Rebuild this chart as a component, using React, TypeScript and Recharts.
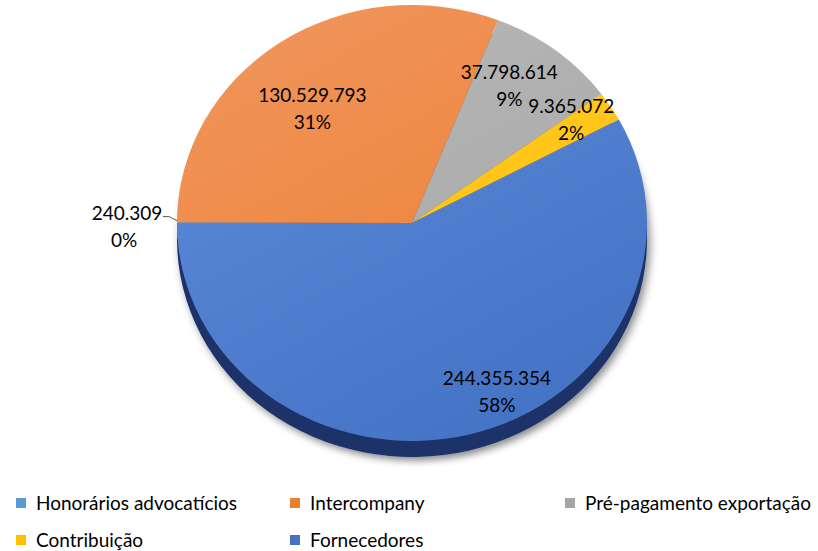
import React from "react";
import { PieChart, Pie, Cell, Sector, Legend } from "recharts";

const categories = [
  "Honorários advocatícios",
  "Intercompany",
  "Pré-pagamento exportação",
  "Contribuição",
  "Fornecedores",
];
const values = [240309, 130529793, 37798614, 9365072, 244355354];

const colors = ["#5B9BD5", "#ED7D31", "#A5A5A5", "#FFC000", "#4472C4"];
const lightColors = ["#79b0e0", "#f0955a", "#b8b8b8", "#ffcc33", "#5e8bdb"];
const darkColors = ["#2f5f8c", "#94481a", "#686868", "#9c7600", "#1b3268"];

// label placement: fraction of radius, angle shift in degrees
const labelPlace = [
  { r: 1, da: 0 },
  { r: 0.68, da: 4.4 },
  { r: 0.76, da: 4.6 },
  { r: 0.83, da: 3 },
  { r: 0.85, da: 11 },
];

const data = categories.map((name, i) => ({ name, value: values[i] }));

const CX = 412;
const CY = 223;
const R = 235;
const SY = 218 / 235;
const DEPTH = 16;
const FONT = "Lato, 'Open Sans', sans-serif";
const LABEL_SIZE = 19;

const fmt = (v: number) => String(v).replace(/\B(?=(\d{3})+(?!\d))/g, ".");

function EllipseSector(props: any) {
  const { cx, cy, innerRadius, outerRadius, startAngle, endAngle, fill, filter } = props;
  return (
    <g transform={`translate(0 ${cy}) scale(1 ${SY}) translate(0 ${-cy})`} filter={filter}>
      <Sector
        cx={cx}
        cy={cy}
        innerRadius={innerRadius}
        outerRadius={outerRadius}
        startAngle={startAngle}
        endAngle={endAngle}
        fill={fill}
        stroke="none"
      />
    </g>
  );
}

function renderLabel(props: any) {
  const { cx, cy, midAngle, outerRadius, index, value, percent } = props;
  const pct = Math.round(percent * 100) + "%";
  const RAD = Math.PI / 180;
  if (index === 0) {
    const ex = cx + outerRadius * Math.cos(-midAngle * RAD);
    const ey = cy + outerRadius * SY * Math.sin(-midAngle * RAD);
    return (
      <g>
        <polyline
          points={`${ex - 14},${ey - 6} ${ex - 8},${ey - 6} ${ex},${ey - 2}`}
          fill="none"
          stroke="#595959"
          strokeWidth={1}
        />
        <text
          x={ex - 50}
          y={ey - 10}
          textAnchor="middle"
          dominantBaseline="central"
          fontFamily={FONT}
          fontSize={LABEL_SIZE}
          fill="#000"
        >
          {fmt(value)}
        </text>
        <text
          x={ex - 53}
          y={ey + 17}
          textAnchor="middle"
          dominantBaseline="central"
          fontFamily={FONT}
          fontSize={LABEL_SIZE}
          fill="#000"
        >
          {pct}
        </text>
      </g>
    );
  }
  const p = labelPlace[index];
  const a = (midAngle + p.da) * RAD;
  const x = cx + p.r * outerRadius * Math.cos(a);
  const y = cy - p.r * outerRadius * SY * Math.sin(a);
  return (
    <g>
      <text
        x={x}
        y={y - 13}
        textAnchor="middle"
        dominantBaseline="central"
        fontFamily={FONT}
        fontSize={LABEL_SIZE}
        fill="#000"
      >
        {fmt(value)}
      </text>
      <text
        x={x}
        y={y + 14}
        textAnchor="middle"
        dominantBaseline="central"
        fontFamily={FONT}
        fontSize={LABEL_SIZE}
        fill="#000"
      >
        {pct}
      </text>
    </g>
  );
}

function LegendContent() {
  const cols = [16, 290, 565];
  const rows = [503, 540];
  return (
    <div style={{ position: "relative", width: 818, height: 60 }}>
      {categories.map((name, i) => {
        const left = cols[i % 3];
        const top = rows[Math.floor(i / 3)] - 490;
        return (
          <div
            key={name}
            style={{
              position: "absolute",
              left,
              top: top - 10,
              height: 20,
              lineHeight: "20px",
              display: "flex",
              alignItems: "center",
              fontFamily: FONT,
              fontSize: 19,
              color: "#000",
              whiteSpace: "nowrap",
            }}
          >
            <span
              style={{
                display: "inline-block",
                width: 10,
                height: 10,
                background: colors[i],
                marginRight: 10,
              }}
            />
            {name}
          </div>
        );
      })}
    </div>
  );
}

export default function App() {
  return (
    <div style={{ position: "absolute", left: 0, top: 0, width: 818, height: 551, background: "#fff" }}>
      <PieChart width={818} height={551} margin={{ top: 0, right: 0, bottom: 0, left: 0 }}>
        <defs>
          {colors.map((c, i) => (
            <linearGradient
              key={c}
              id={`grad${i}`}
              gradientUnits="userSpaceOnUse"
              x1={CX - 150}
              y1={CY - R}
              x2={CX + 120}
              y2={CY + R}
            >
              <stop offset="0%" stopColor={lightColors[i]} />
              <stop offset="100%" stopColor={c} />
            </linearGradient>
          ))}
          <filter id="shadow" x="-10%" y="-10%" width="120%" height="130%">
            <feDropShadow dx="3" dy="4" stdDeviation="4" floodColor="#000" floodOpacity="0.45" />
          </filter>
        </defs>
        <Pie
          data={data}
          dataKey="value"
          nameKey="name"
          cx={CX}
          cy={CY + DEPTH}
          outerRadius={R}
          startAngle={180}
          endAngle={-180}
          stroke="none"
          legendType="none"
          isAnimationActive={false}
          shape={(p: any) => <EllipseSector {...p} filter="url(#shadow)" />}
        >
          {data.map((d, i) => (
            <Cell key={d.name} fill={darkColors[i]} />
          ))}
        </Pie>
        <Pie
          data={data}
          dataKey="value"
          nameKey="name"
          cx={CX}
          cy={CY}
          outerRadius={R}
          startAngle={180}
          endAngle={-180}
          stroke="none"
          isAnimationActive={false}
          shape={(p: any) => <EllipseSector {...p} />}
          label={renderLabel}
          labelLine={false}
        >
          {data.map((d, i) => (
            <Cell key={d.name} fill={`url(#grad${i})`} />
          ))}
        </Pie>
        <Legend
          content={<LegendContent />}
          wrapperStyle={{ position: "absolute", left: 0, top: 490, width: 818 }}
        />
      </PieChart>
    </div>
  );
}
